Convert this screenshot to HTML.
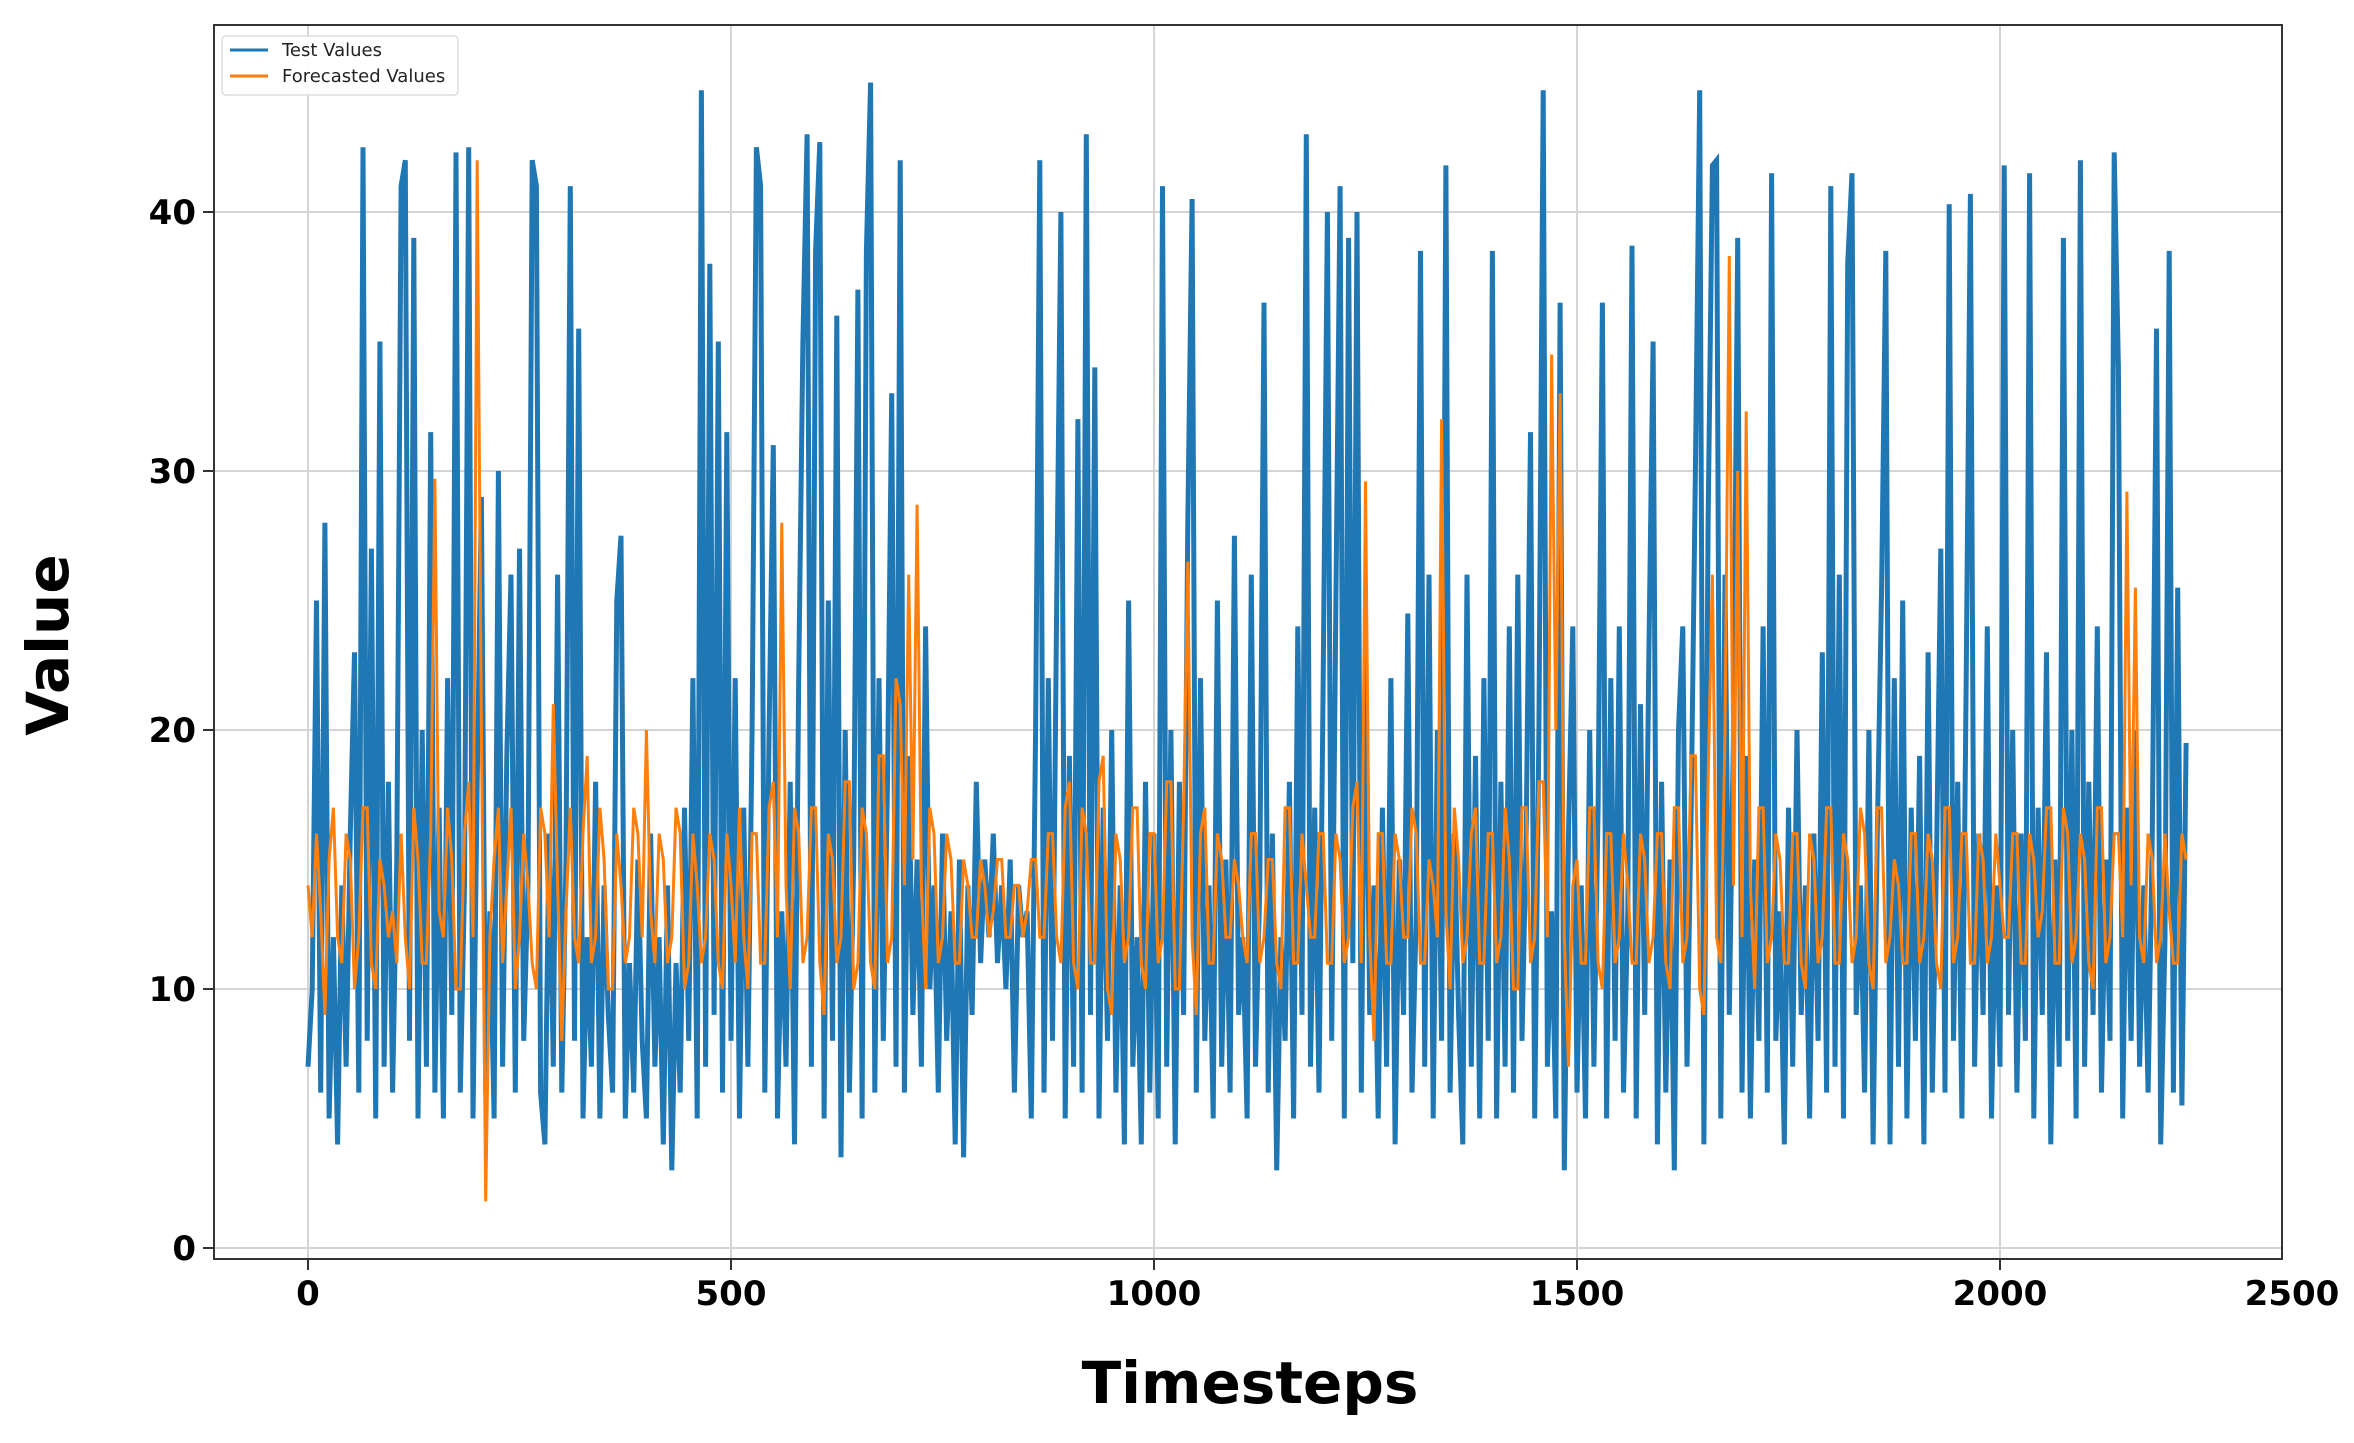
<!DOCTYPE html>
<html><head><meta charset="utf-8"><style>
html,body{margin:0;padding:0;background:#fff;}
svg{display:block;font-family:"DejaVu Sans","Liberation Sans",sans-serif;}
</style></head><body>
<svg id="chart" width="2354" height="1443" viewBox="0 0 2354 1443" xmlns="http://www.w3.org/2000/svg">
<rect x="0" y="0" width="2354" height="1443" fill="#fff"/>
<g id="grid"></g>
<g id="series"></g>
<rect x="214" y="25" width="2068" height="1234" fill="none" stroke="#333" stroke-width="2"/>
<g id="ticks"></g>
<text x="1250" y="1403" font-size="58" font-weight="bold" text-anchor="middle">Timesteps</text>
<text x="68" y="645" font-size="58" font-weight="bold" text-anchor="middle" transform="rotate(-90 68 645)">Value</text>
<g>
<rect x="222" y="36" width="236" height="59" rx="4" fill="#fff" fill-opacity="0.9" stroke="#ddd" stroke-width="1.5"/>
<line x1="230" y1="50" x2="268" y2="50" stroke="#1f77b4" stroke-width="3"/>
<text x="282" y="56" font-size="18" fill="#222">Test Values</text>
<line x1="230" y1="76" x2="268" y2="76" stroke="#ff7f0e" stroke-width="3"/>
<text x="282" y="82" font-size="18" fill="#222">Forecasted Values</text>
</g>
</svg>
<script>
const xTicks=[0,500,1000,1500,2000,2500];
const yTicks=[0,10,20,30,40];
const testStep=5;
const testValues=[
7,10,25,6,28,5,12,4,14,7,16,23,6,42.5,8,27,5,35,7,18,
6,15,41,42,8,39,5,20,7,31.5,6,17,5,22,9,42.3,6,14,42.5,5,
18,29,6,13,5,30,7,19,26,6,27,8,14,42,41,6,4,16,7,26,
6,15,41,8,35.5,5,12,7,18,5,14,9,6,25,27.5,5,11,6,15,8,
5,16,7,12,4,14,3,11,6,17,8,22,5,44.7,7,38,9,35,6,31.5,
8,22,5,17,7,20,42.5,41,6,20,31,5,13,7,18,4,22,35,43,7,
38.5,42.7,5,25,8,36,3.5,20,6,15,37,5,38.5,45,6,22,8,18,33,7,
42,6,19,9,15,7,24,10,14,6,16,8,13,4,15,3.5,14,9,18,11,
15,12,16,11,14,10,15,6,14,12,13,5,20,42,6,22,8,25,40,5,
19,7,32,6,43,9,34,5,17,8,20,6,14,4,25,7,12,4,18,6,
16,5,41,7,20,4,18,9,28,40.5,6,22,8,14,5,25,7,15,6,27.5,
9,12,5,26,7,14,36.5,6,16,3,12,8,18,5,24,9,43,7,17,6,
22,40,8,25,41,5,39,11,40,6,24,9,14,5,17,7,22,4,15,9,
24.5,6,13,38.5,7,26,5,20,8,41.8,6,16,9,4,26,7,19,5,22,8,
38.5,5,18,7,24,6,26,8,16,31.5,5,20,44.7,7,13,5,36.5,3,16,24,
6,14,5,20,7,17,36.5,5,22,8,24,6,13,38.7,5,21,9,23,35,4,
18,6,15,3,20,24,7,17,30,44.7,4,28,41.8,42,5,26,9,20,39,6,
19,5,15,8,24,6,41.5,8,13,4,17,7,20,9,14,5,16,8,23,6,
41,7,26,5,38,41.5,9,14,6,20,4,16,25.5,38.5,4,22,7,25,5,17,
8,19,4,23,6,15,27,6,40.3,8,18,5,22,40.7,7,16,9,24,5,14,
7,41.8,9,20,6,16,8,41.5,5,17,9,23,4,15,7,39,8,20,5,42,
7,18,9,24,6,15,8,42.3,34,5,17,8,20,7,14,6,16,35.5,4,12,
38.5,6,25.5,5.5,19.5
];
const forecastStep=5;
const forecastValues=[
14,12,16,13,9,15,17,12,11,16,15,10,12,17,17,11,10,15,14,12,
13,11,16,12,10,17,15,11,11,16,29.7,13,12,17,15,10,10,16,18,12,
42,20,1.8,12,15,17,11,14,17,10,12,16,14,11,10,17,16,12,21,14,
8,13,17,12,11,16,19,11,12,17,15,10,10,16,14,11,12,17,16,12,
20,13,11,16,15,11,12,17,16,10,11,16,14,11,12,16,15,11,10,16,
14,11,17,12,10,16,16,11,11,17,18,12,28,14,10,17,16,11,12,17,
17,11,9,16,15,11,12,18,18,10,11,17,16,11,10,19,19,11,12,22,
21,14,26,15,28.7,14,10,17,16,11,12,16,15,11,11,15,14,12,12,15,
14,12,13,15,15,12,12,14,14,12,13,15,15,12,12,16,16,12,11,17,
18,11,10,17,16,11,11,18,19,10,9,16,15,11,12,17,17,11,10,16,
16,11,12,18,18,10,10,17,26.5,12,9,16,17,11,11,16,15,12,12,15,
14,12,11,16,16,11,12,15,15,11,10,17,17,11,11,16,14,12,12,16,
16,11,11,16,15,11,12,17,18,11,29.6,12,8,16,16,11,11,16,15,12,
12,17,16,11,11,15,14,12,32,13,10,17,15,11,12,16,17,11,11,16,
16,11,12,17,15,10,10,17,17,11,12,18,18,12,34.5,20,33,12,7,14,
15,11,11,17,17,11,10,16,16,11,12,16,14,11,11,16,15,11,12,16,
16,11,10,17,17,11,12,19,19,10,9,18,26,12,11,20,38.3,14,30,12,
32.3,14,10,17,17,11,12,16,15,11,11,16,16,11,10,16,15,11,12,17,
17,11,11,16,15,11,12,17,16,11,10,17,17,11,12,15,14,11,11,16,
16,11,12,16,15,11,10,17,17,11,12,16,16,11,11,16,15,11,12,16,
14,12,12,16,16,11,11,16,15,12,13,17,17,11,11,17,16,11,12,16,
15,11,10,17,17,11,12,16,16,12,29.2,14,25.5,12,11,16,15,11,12,16,
13,11,11,16,15
];
const NS='http://www.w3.org/2000/svg';
const X0=308, XS=0.846, Y0=1248, YS=25.9;
function xScale(t){return X0+t*XS;}
function yScale(v){return Y0-v*YS;}
function mk(tag,attrs,parent){const e=document.createElementNS(NS,tag);for(const k in attrs)e.setAttribute(k,attrs[k]);parent.appendChild(e);return e;}
const grid=document.getElementById('grid'), ticks=document.getElementById('ticks'), series=document.getElementById('series');
xTicks.forEach(t=>{
  const x=xScale(t);
  if(x<2282){
    const g=mk('line',{x1:x,y1:25,x2:x,y2:1259,stroke:'#d4d4d4','stroke-width':2},grid);
    
    
    const tk=mk('line',{x1:x,y1:1259,x2:x,y2:1270,stroke:'#333','stroke-width':2},ticks);
    
    
  }
  const lbl=mk('text',{x:(t===2500?2292:x),y:1305,'font-size':34,'font-weight':'bold','text-anchor':'middle'},ticks);
  lbl.textContent=t;
  
  
});
yTicks.forEach(v=>{
  const y=yScale(v);
  const g=mk('line',{x1:214,y1:y,x2:2282,y2:y,stroke:'#d4d4d4','stroke-width':2},grid);
  
  
  const tk=mk('line',{x1:203,y1:y,x2:214,y2:y,stroke:'#333','stroke-width':2},ticks);
  
  
  const lbl=mk('text',{x:196,y:y+12,'font-size':34,'font-weight':'bold','text-anchor':'end'},ticks);
  lbl.textContent=v;
  
  
});
function pathFor(vals,step){return vals.map((v,i)=>(i?'L':'M')+xScale(i*step).toFixed(1)+','+yScale(v).toFixed(1)).join('');}
const pTest=mk('path',{d:pathFor(testValues,testStep),fill:'none',stroke:'#1f77b4','stroke-width':5,'stroke-linejoin':'miter'},series);


const pFc=mk('path',{d:pathFor(forecastValues,forecastStep),fill:'none',stroke:'#ff7f0e','stroke-width':3},series);


</script>
</body></html>
